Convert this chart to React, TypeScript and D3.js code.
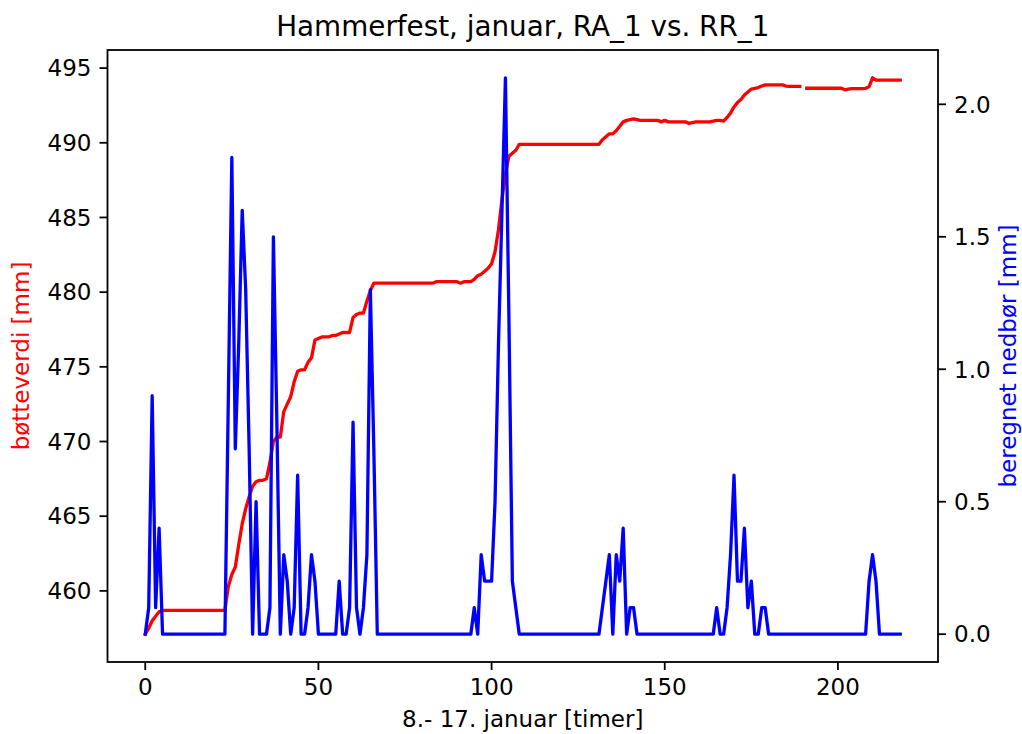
import React from "react";
import * as d3 from "d3";

// hourly bucket level (RA_1) in mm, null = missing hour
const bucketValues: (number | null)[] = [
  457.1, 457.5, 458.0, 458.3, 458.6, 458.7, 458.7, 458.7, 458.7, 458.7,
  458.7, 458.7, 458.7, 458.7, 458.7, 458.7, 458.7, 458.7, 458.7, 458.7,
  458.7, 458.7, 458.7, 458.7, 460.3, 461.1, 461.6, 463.1, 464.5, 465.5,
  466.3, 467.0, 467.3, 467.4, 467.4, 467.5, 468.6, 470.0, 470.3, 470.3,
  472.0, 472.5, 473.0, 474.0, 474.7, 474.8, 474.8, 475.3, 475.6, 476.8,
  476.9, 477.0, 477.0, 477.0, 477.1, 477.1, 477.2, 477.3, 477.3, 477.3,
  478.3, 478.5, 478.6, 478.6, 479.4, 480.1, 480.6, 480.6, 480.6, 480.6,
  480.6, 480.6, 480.6, 480.6, 480.6, 480.6, 480.6, 480.6, 480.6, 480.6,
  480.6, 480.6, 480.6, 480.6, 480.7, 480.7, 480.7, 480.7, 480.7, 480.7,
  480.7, 480.6, 480.7, 480.7, 480.7, 480.85, 481.1, 481.2, 481.4, 481.6,
  481.9, 482.7, 484.2, 486.2, 487.9, 489.1, 489.3, 489.5, 489.9, 489.9,
  489.9, 489.9, 489.9, 489.9, 489.9, 489.9, 489.9, 489.9, 489.9, 489.9,
  489.9, 489.9, 489.9, 489.9, 489.9, 489.9, 489.9, 489.9, 489.9, 489.9,
  489.9, 489.9, 490.2, 490.4, 490.6, 490.6, 490.8, 491.1, 491.4, 491.5,
  491.55, 491.6, 491.55, 491.5, 491.5, 491.5, 491.5, 491.5, 491.5, 491.4,
  491.5, 491.4, 491.4, 491.4, 491.4, 491.4, 491.4, 491.3, 491.35, 491.4,
  491.4, 491.4, 491.4, 491.4, 491.45, 491.5, 491.5, 491.45, 491.7, 492.0,
  492.4, 492.7, 492.9, 493.2, 493.4, 493.6, 493.65, 493.7, 493.8, 493.88,
  493.88, 493.88, 493.88, 493.88, 493.88, 493.8, 493.78, 493.78, 493.78, 493.78,
  null, 493.65, 493.65, 493.65, 493.65, 493.65, 493.65, 493.65, 493.65, 493.65,
  493.65, 493.65, 493.55, 493.6, 493.63, 493.63, 493.63, 493.63, 493.65, 493.75,
  494.35, 494.2, 494.2, 494.2, 494.2, 494.2, 494.2, 494.2, 494.2,
];

// hourly computed precipitation (RR_1) in mm
const precipValues: number[] = [
  0, 0.1, 0.9, 0.1, 0.4, 0, 0, 0, 0, 0,
  0, 0, 0, 0, 0, 0, 0, 0, 0, 0,
  0, 0, 0, 0, 0.9, 1.8, 0.7, 1.1, 1.6, 1.3,
  0.7, 0, 0.5, 0, 0, 0, 0.1, 1.5, 0.8, 0,
  0.3, 0.2, 0, 0.1, 0.6, 0, 0, 0.1, 0.3, 0.2,
  0, 0, 0, 0, 0, 0, 0.2, 0, 0, 0.1,
  0.8, 0.1, 0, 0.1, 0.3, 1.3, 0.7, 0, 0, 0,
  0, 0, 0, 0, 0, 0, 0, 0, 0, 0,
  0, 0, 0, 0, 0, 0, 0, 0, 0, 0,
  0, 0, 0, 0, 0, 0.1, 0, 0.3, 0.2, 0.2,
  0.2, 0.5, 1.1, 1.6, 2.1, 1.2, 0.2, 0.1, 0, 0,
  0, 0, 0, 0, 0, 0, 0, 0, 0, 0,
  0, 0, 0, 0, 0, 0, 0, 0, 0, 0,
  0, 0, 0.1, 0.2, 0.3, 0, 0.3, 0.2, 0.4, 0,
  0.1, 0.1, 0, 0, 0, 0, 0, 0, 0, 0,
  0, 0, 0, 0, 0, 0, 0, 0, 0, 0,
  0, 0, 0, 0, 0, 0.1, 0, 0, 0.1, 0.3,
  0.6, 0.2, 0.2, 0.4, 0.1, 0.2, 0, 0, 0.1, 0.1,
  0, 0, 0, 0, 0, 0, 0, 0, 0, 0,
  0, 0, 0, 0, 0, 0, 0, 0, 0, 0,
  0, 0, 0, 0, 0, 0, 0, 0, 0, 0.2,
  0.3, 0.2, 0, 0, 0, 0, 0, 0, 0,
];

const xTicks = [0, 50, 100, 150, 200];
const leftTicks = [460, 465, 470, 475, 480, 485, 490, 495];
const rightTicks = [0, 0.5, 1.0, 1.5, 2.0];

const titleText = "Hammerfest, januar, RA_1 vs. RR_1";
const xLabel = "8.- 17. januar [timer]";
const leftLabel = "bøtteverdi [mm]";
const rightLabel = "beregnet nedbør [mm]";

const W = 1022;
const H = 734;
const plot = { left: 107.5, right: 938, top: 50, bottom: 662 };
const FONT = "'DejaVu Sans', sans-serif";
const TICK_FS = 23;
const TICK_LEN = 8;

// matplotlib style 5% padding around data
function padded(lo: number, hi: number): [number, number] {
  const m = (hi - lo) * 0.05;
  return [lo - m, hi + m];
}

const App = () => {
  const hours = bucketValues.map((_, i) => i);
  const redVals = bucketValues.filter((v): v is number => v != null);

  const x = d3.scaleLinear()
    .domain(padded(0, hours.length - 1))
    .range([plot.left, plot.right]);
  const yL = d3.scaleLinear()
    .domain(padded(d3.min(redVals)!, d3.max(redVals)!))
    .range([plot.bottom, plot.top]);
  const yR = d3.scaleLinear()
    .domain(padded(d3.min(precipValues)!, d3.max(precipValues)!))
    .range([plot.bottom, plot.top]);

  const redLine = d3.line<number | null>()
    .defined(d => d != null)
    .x((_, i) => x(i))
    .y(d => yL(d as number));
  const blueLine = d3.line<number>()
    .x((_, i) => x(i))
    .y(d => yR(d));

  const midY = (plot.top + plot.bottom) / 2;
  const midX = (plot.left + plot.right) / 2;

  return (
    <div style={{ position: "absolute", left: 0, top: 0, background: "#fff" }}>
      <svg width={W} height={H} style={{ display: "block", fontFamily: FONT }}>
        <rect width={W} height={H} fill="#fff" />
        <defs>
          <clipPath id="plotClip">
            <rect x={plot.left} y={plot.top} width={plot.right - plot.left} height={plot.bottom - plot.top} />
          </clipPath>
        </defs>

        <g clipPath="url(#plotClip)">
          <path d={redLine(bucketValues) || ""} fill="none" stroke="red" strokeWidth={3.3}
            strokeLinejoin="round" strokeLinecap="square" />
          <path d={blueLine(precipValues) || ""} fill="none" stroke="blue" strokeWidth={3.3}
            strokeLinejoin="round" strokeLinecap="square" />
        </g>

        <rect x={plot.left} y={plot.top} width={plot.right - plot.left} height={plot.bottom - plot.top}
          fill="none" stroke="#000" strokeWidth={1.8} />

        {/* bottom axis */}
        {xTicks.map(t => (
          <g key={"x" + t} transform={`translate(${x(t)},${plot.bottom})`}>
            <line y2={TICK_LEN} stroke="#000" strokeWidth={1.8} />
            <text y={TICK_LEN + 8 + TICK_FS * 0.76} textAnchor="middle" fontSize={TICK_FS} fill="#000">{t}</text>
          </g>
        ))}

        {/* left axis */}
        {leftTicks.map(t => (
          <g key={"l" + t} transform={`translate(${plot.left},${yL(t)})`}>
            <line x2={-TICK_LEN} stroke="#000" strokeWidth={1.8} />
            <text x={-TICK_LEN - 8} dy="0.36em" textAnchor="end" fontSize={TICK_FS} fill="#000">{t}</text>
          </g>
        ))}

        {/* right axis */}
        {rightTicks.map(t => (
          <g key={"r" + t} transform={`translate(${plot.right},${yR(t)})`}>
            <line x2={TICK_LEN} stroke="#000" strokeWidth={1.8} />
            <text x={TICK_LEN + 8} dy="0.36em" textAnchor="start" fontSize={TICK_FS} fill="#000">{d3.format(".1f")(t)}</text>
          </g>
        ))}

        <text x={midX} y={36} textAnchor="middle" fontSize={27.8} fill="#000">{titleText}</text>
        <text x={midX} y={727} textAnchor="middle" fontSize={TICK_FS} fill="#000">{xLabel}</text>
        <text transform={`translate(29,${midY}) rotate(-90)`} textAnchor="middle" fontSize={TICK_FS} fill="red">{leftLabel}</text>
        <text transform={`translate(1016,${midY}) rotate(-90)`} textAnchor="middle" fontSize={TICK_FS} fill="blue">{rightLabel}</text>
      </svg>
    </div>
  );
};

export default App;
